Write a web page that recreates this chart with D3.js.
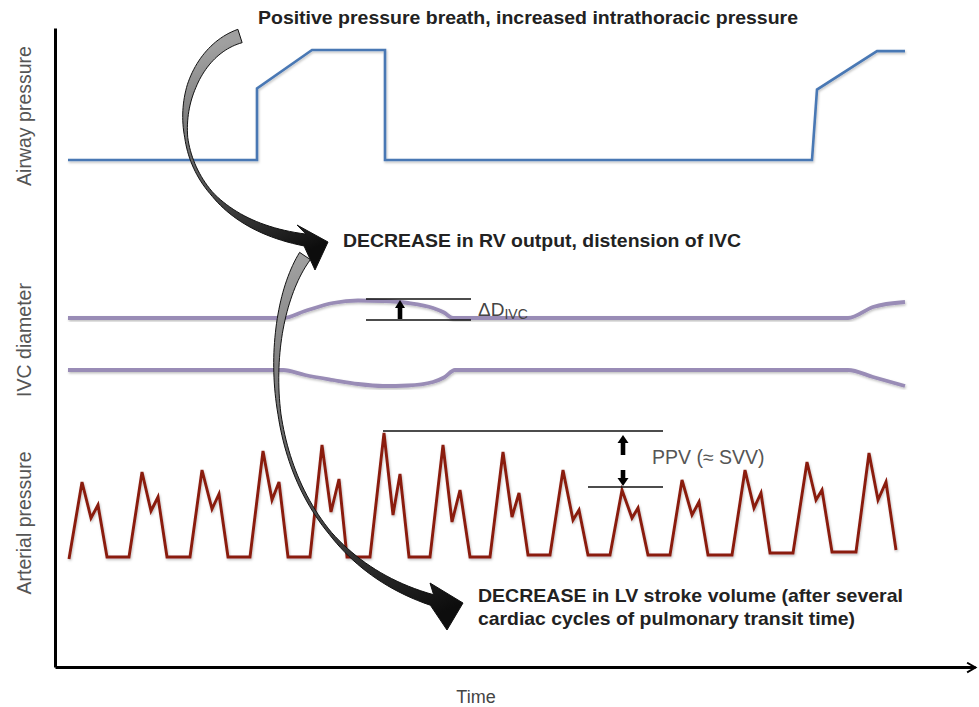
<!DOCTYPE html>
<html>
<head>
<meta charset="utf-8">
<script src="https://cdn.jsdelivr.net/npm/d3@7"></script>
<style>
  body { margin: 0; background: #fff; }
  svg { display: block; font-family: "Liberation Sans", Arial, sans-serif; }
</style>
</head>
<body>
<div id="graf"></div>
<script>
// tiempo en unidades arbitrarias (0..92), cada serie con sus propios valores

// presión de vía aérea
const airwayT = [1.3, 20.2, 20.2, 25.7, 33, 33, 75.7, 76.2, 82.2, 85]
const airwayP = [0, 0, 6.5, 10, 10, 0, 0, 6.4, 9.9, 9.9]

// diámetro de la VCI (borde superior e inferior)
const ivcT = [1.3, 22.8, 25, 27.8, 30.3, 32.8, 35.3, 37.8, 38.9, 39.8, 79.3, 81.8, 85]
const ivcTop = [7.7, 7.7, 8.4, 9.2, 9.45, 9.4, 9.2, 8.7, 8.25, 7.7, 7.7, 8.8, 9.3]
const ivcBotT = [1.3, 22.8, 25, 27.8, 30.3, 32.8, 35.3, 37.8, 38.9, 40, 79.3, 81.8, 85]
const ivcBottom = [2.5, 2.5, 2.0, 1.5, 1.1, 0.9, 0.95, 1.3, 1.75, 2.5, 2.5, 1.8, 0.9]

// presión arterial (mmHg aprox.)
const artT = [
  1.4, 2.7, 3.6, 4.3, 5.2, 7.4,
  8.7, 9.6, 10.3, 11.2, 13.5,
  14.7, 15.7, 16.4, 17.3, 19.5,
  20.8, 21.7, 22.4, 23.3, 25.5,
  26.7, 27.6, 28.4, 29.2, 31.5,
  32.9, 33.8, 34.5, 35.4, 37.5,
  38.8, 39.7, 40.5, 41.5, 43.5,
  44.8, 45.7, 46.4, 47.3, 49.5,
  50.8, 51.8, 52.4, 53.3, 55.5,
  56.7, 57.7, 58.3, 59.3, 61.5,
  62.7, 63.7, 64.4, 65.3, 67.7,
  69.0, 69.9, 70.6, 71.5, 73.8,
  75.2, 76.1, 76.7, 77.7, 80.1,
  81.4, 82.3, 83.1, 84.1
]
const artP = [
  68, 106.5, 88.5, 95, 69, 69,
  111.5, 92, 99, 69, 69,
  112.5, 93, 100.5, 69, 69,
  122, 97.5, 106.5, 69, 69,
  125, 91.5, 108, 69, 69,
  131, 90, 110.5, 69, 69,
  125, 86.5, 102.5, 69, 69,
  121.5, 89, 101, 70, 70,
  112.5, 87.5, 92.5, 70, 70,
  102.5, 88.5, 93.5, 70, 70,
  107.5, 90, 96.5, 70, 70,
  112.5, 93.5, 101, 71, 71,
  116.5, 97.5, 102.5, 71.5, 71.5,
  121, 97.5, 106.5, 72.5
]

// marcas de anotación (en unidades de tiempo)
const deltaX = [31.1, 41.6, 34.5]     // inicio, fin, flecha
const deltaY = [9.6, 7.5]             // líneas de ΔD
const ppvX = [32.8, 53.3, 60.8, 56.8] // inicio sup, inicio inf, fin, flecha

const ancho = 979
const alto = 707

const svg = d3.select("#graf")
  .append("svg")
  .attr("width", ancho)
  .attr("height", alto)

const defs = svg.append("defs")

const sombra = defs.append("filter").attr("id", "sombra")
  .attr("x", "-5%").attr("y", "-10%").attr("width", "110%").attr("height", "130%")
sombra.append("feDropShadow")
  .attr("dx", 0.8).attr("dy", 1.5).attr("stdDeviation", 1.2)
  .attr("flood-color", "#000").attr("flood-opacity", 0.25)

defs.append("marker")
  .attr("id", "punta")
  .attr("viewBox", "0 0 10 10")
  .attr("refX", 8).attr("refY", 5)
  .attr("markerWidth", 4).attr("markerHeight", 4)
  .attr("markerUnits", "strokeWidth")
  .attr("orient", "auto")
  .append("path")
  .attr("d", "M1,1 L8,5 L1,9")
  .attr("fill", "none")
  .attr("stroke", "#000")
  .attr("stroke-width", 1.6)

// escalas
const x = d3.scaleLinear().domain([0, 92]).range([55, 975])
const yAir = d3.scaleLinear().domain([0, 10]).range([160, 50])
const yIvc = d3.scaleLinear().domain([0, 10]).range([395, 295])
const yArt = d3.scaleLinear().domain([60, 140]).range([575, 415])
const yFull = d3.scaleLinear().domain([0, 1]).range([667, 28])

// ejes
svg.append("g")
  .attr("transform", "translate(55, 0)")
  .call(d3.axisLeft(yFull).tickValues([]).tickSizeOuter(0))
  .select(".domain")
  .attr("stroke", "#000")
  .attr("stroke-width", 3)

svg.append("g")
  .attr("transform", "translate(0, 667)")
  .call(d3.axisBottom(x).tickValues([]).tickSizeOuter(0))
  .select(".domain")
  .attr("stroke", "#000")
  .attr("stroke-width", 3)
  .attr("marker-end", "url(#punta)")

// etiquetas de los ejes
const etiquetas = [
  { t: "Airway pressure", y: 116 },
  { t: "IVC diameter", y: 340 },
  { t: "Arterial pressure", y: 523 }
]
etiquetas.forEach((e) => {
  svg.append("text")
    .attr("transform", `translate(31, ${e.y}) rotate(-90)`)
    .attr("text-anchor", "middle")
    .attr("font-size", 19.5)
    .attr("fill", "#555")
    .text(e.t)
})

svg.append("text")
  .attr("x", 476)
  .attr("y", 703)
  .attr("text-anchor", "middle")
  .attr("font-size", 18)
  .attr("fill", "#444")
  .text("Time")

// series
const lineaAir = d3.line().x((d) => x(d[0])).y((d) => yAir(d[1]))
svg.append("path")
  .datum(d3.zip(airwayT, airwayP))
  .attr("d", lineaAir)
  .attr("fill", "none")
  .attr("stroke", "#4a78b4")
  .attr("stroke-width", 2.6)
  .attr("filter", "url(#sombra)")

const lineaIvc = d3.line().curve(d3.curveMonotoneX).x((d) => x(d[0])).y((d) => yIvc(d[1]))
;[d3.zip(ivcT, ivcTop), d3.zip(ivcBotT, ivcBottom)].forEach((serie) => {
  svg.append("path")
    .datum(serie)
    .attr("d", lineaIvc)
    .attr("fill", "none")
    .attr("stroke", "#998cb6")
    .attr("stroke-width", 3.8)
    .attr("filter", "url(#sombra)")
})

const lineaArt = d3.line().x((d) => x(d[0])).y((d) => yArt(d[1]))
svg.append("path")
  .datum(d3.zip(artT, artP))
  .attr("d", lineaArt)
  .attr("fill", "none")
  .attr("stroke", "#8a1b10")
  .attr("stroke-width", 2.9)
  .attr("stroke-linejoin", "miter")
  .attr("filter", "url(#sombra)")

// flechas pequeñas negras
const flechita = (cx, yTip, yTail, ancho) => {
  const dir = yTip < yTail ? -1 : 1
  const largo = 8
  const pts = [
    [cx - 2.3, yTail], [cx - 2.3, yTip - dir * largo], [cx - ancho / 2, yTip - dir * largo],
    [cx, yTip], [cx + ancho / 2, yTip - dir * largo], [cx + 2.3, yTip - dir * largo], [cx + 2.3, yTail]
  ]
  svg.append("path")
    .attr("d", d3.line()(pts) + "Z")
    .attr("fill", "#000")
}

// ΔD IVC
deltaY.forEach((v) => {
  svg.append("line")
    .attr("x1", x(deltaX[0])).attr("x2", x(deltaX[1]))
    .attr("y1", yIvc(v)).attr("y2", yIvc(v))
    .attr("stroke", "#111").attr("stroke-width", 1.5)
})
flechita(x(deltaX[2]), yIvc(deltaY[0]) + 1, yIvc(deltaY[1]) - 1, 10)

const dTxt = svg.append("text")
  .attr("x", x(deltaX[1]) + 7)
  .attr("y", 316)
  .attr("font-size", 19)
  .attr("fill", "#444")
dTxt.append("tspan").text("ΔD")
dTxt.append("tspan").attr("font-size", 14).attr("dy", 3).text("IVC")

// PPV
const picoMax = d3.max(artP)
const picoMin = 104
svg.append("line")
  .attr("x1", x(ppvX[0])).attr("x2", x(ppvX[2]))
  .attr("y1", yArt(picoMax) - 2).attr("y2", yArt(picoMax) - 2)
  .attr("stroke", "#111").attr("stroke-width", 1.5)
svg.append("line")
  .attr("x1", x(ppvX[1])).attr("x2", x(ppvX[2]))
  .attr("y1", yArt(picoMin)).attr("y2", yArt(picoMin))
  .attr("stroke", "#111").attr("stroke-width", 1.5)
flechita(x(ppvX[3]), yArt(picoMax) + 2, yArt(picoMax) + 22, 11)
flechita(x(ppvX[3]), yArt(picoMin) - 1, yArt(picoMin) - 17, 11)

svg.append("text")
  .attr("x", 652)
  .attr("y", 464)
  .attr("font-size", 19.5)
  .attr("fill", "#555")
  .text("PPV (≈ SVV)")

// flechas curvas grandes
const bez = (p, t) => {
  const u = 1 - t
  return [0, 1].map((k) => u * u * u * p[0][k] + 3 * u * u * t * p[1][k] + 3 * u * t * t * p[2][k] + t * t * t * p[3][k])
}
const bezD = (p, t) => {
  const u = 1 - t
  return [0, 1].map((k) => 3 * u * u * (p[1][k] - p[0][k]) + 6 * u * t * (p[2][k] - p[1][k]) + 3 * t * t * (p[3][k] - p[2][k]))
}
const grosor = (perfil, t) => {
  for (let i = 1; i < perfil.length; i++) {
    if (t <= perfil[i][0]) {
      const a = perfil[i - 1], b = perfil[i]
      return a[1] + (b[1] - a[1]) * (t - a[0]) / (b[0] - a[0])
    }
  }
  return perfil[perfil.length - 1][1]
}

const flechas = [
  {
    id: "g2",
    p: [[305, 256], [255, 330], [255, 545], [432, 600]],
    perfil: [[0, 13], [0.25, 7], [0.45, 3], [0.75, 3], [1, 11]],
    b1: [447, 630], tip: [463, 603], b2: [430, 583],
    grad: [[305, 256], [463, 603]]
  },
  {
    id: "g1",
    p: [[240, 36], [165, 60], [150, 215], [305, 240]],
    perfil: [[0, 14], [0.3, 9], [0.5, 3], [0.72, 3], [1, 12]],
    b1: [315, 270], tip: [328, 242], b2: [297, 225],
    grad: [[240, 36], [328, 242]]
  }
]

flechas.forEach((f) => {
  const gr = defs.append("linearGradient")
    .attr("id", f.id)
    .attr("gradientUnits", "userSpaceOnUse")
    .attr("x1", f.grad[0][0]).attr("y1", f.grad[0][1])
    .attr("x2", f.grad[1][0]).attr("y2", f.grad[1][1])
  gr.append("stop").attr("offset", 0).attr("stop-color", "#a0a0a0")
  gr.append("stop").attr("offset", 0.55).attr("stop-color", "#555")
  gr.append("stop").attr("offset", 1).attr("stop-color", "#0d0d0d")

  const izq = [], der = []
  const n = 80
  for (let i = 0; i <= n; i++) {
    const t = i / n
    const c = bez(f.p, t)
    const d = bezD(f.p, t)
    const L = Math.hypot(d[0], d[1])
    const nx = -d[1] / L, ny = d[0] / L
    const w = grosor(f.perfil, t) / 2
    izq.push([c[0] + nx * w, c[1] + ny * w])
    der.push([c[0] - nx * w, c[1] - ny * w])
  }
  const pts = izq.concat([f.b1, f.tip, f.b2]).concat(der.reverse())
  svg.append("path")
    .attr("d", d3.line()(pts) + "Z")
    .attr("fill", `url(#${f.id})`)
    .attr("stroke", "#111")
    .attr("stroke-width", 1)
    .attr("stroke-linejoin", "round")
})

// textos en negrita
const textos = [
  { t: "Positive pressure breath, increased intrathoracic pressure", x: 258, y: 24, s: 18, len: 540 },
  { t: "DECREASE in RV output, distension of IVC", x: 343, y: 247, s: 17.5, len: 398 },
  { t: "DECREASE in LV stroke volume (after several", x: 478, y: 602, s: 19, len: 425 },
  { t: "cardiac cycles of pulmonary transit time)", x: 478, y: 625, s: 19, len: 377 }
]
textos.forEach((d) => {
  svg.append("text")
    .attr("x", d.x)
    .attr("y", d.y)
    .attr("font-size", d.s)
    .attr("font-weight", "bold")
    .attr("fill", "#222")
    .attr("textLength", d.len)
    .attr("lengthAdjust", "spacingAndGlyphs")
    .text(d.t)
})
</script>
</body>
</html>
